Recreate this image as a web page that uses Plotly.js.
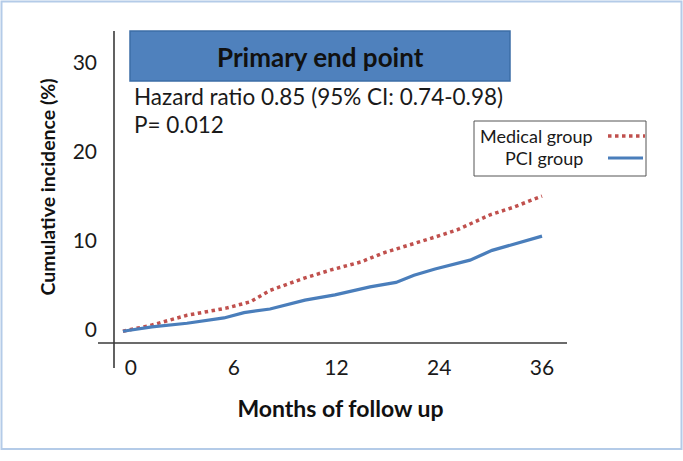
<!DOCTYPE html>
<html>
<head>
<meta charset="utf-8">
<script src="https://cdn.plot.ly/plotly-3.0.1.min.js"></script>
<style>
html,body{margin:0;padding:0;background:#fff;}
#chart{width:683px;height:461px;}
</style>
</head>
<body>
<div id="chart"></div>
<script>
// x positions are in axis units: one unit per tick (ticks 0, 6, 12, 24, 36 months are evenly spaced in the figure)
const tickPositions = [0, 1, 2, 3, 4];
const tickLabels = ['0', '6', '12', '24', '36'];
const yTicks = [0, 10, 20, 30];

const medicalName = 'Medical group';
const medicalX = [-0.078, 0.204, 0.545, 0.925, 1.158, 1.353, 1.693, 1.946, 2.238, 2.453, 2.959, 3.173, 3.494, 3.708, 4.0];
const medicalY = [-0.2, 0.5, 1.6, 2.4, 3.1, 4.4, 5.8, 6.7, 7.6, 8.6, 10.4, 11.2, 12.9, 13.7, 15.0];

const pciName = 'PCI group';
const pciX = [-0.078, 0.204, 0.545, 0.905, 1.100, 1.353, 1.693, 1.985, 2.326, 2.579, 2.754, 2.959, 3.299, 3.514, 4.0];
const pciY = [-0.2, 0.3, 0.7, 1.3, 1.9, 2.3, 3.3, 3.9, 4.8, 5.3, 6.1, 6.8, 7.8, 8.9, 10.5];

const boxTitle = 'Primary end point';
const hazardText = 'Hazard ratio 0.85 (95% CI: 0.74-0.98)';
const pText = 'P= 0.012';
const xTitle = 'Months of follow up';
const yTitle = 'Cumulative incidence (%)';

const RED = '#C0504D';
const BLUE = '#4A7EBB';
const FONT = 'Lato, "Open Sans", sans-serif';

// plot area in pixels
const W = 683, H = 461;
const L = 114, R = 116, T = 31, B = 118;
const pw = W - L - R, ph = H - T - B;
const px = v => (v - L) / pw;          // pixel x -> paper
const py = v => (H - B - v) / ph;      // pixel y -> paper

const traces = [
  {x: medicalX, y: medicalY, name: medicalName, mode: 'lines', type: 'scatter',
   line: {color: RED, width: 3.5, dash: 'dot'}, showlegend: false},
  {x: pciX, y: pciY, name: pciName, mode: 'lines', type: 'scatter',
   line: {color: BLUE, width: 3.2}, showlegend: false}
];

const layout = {
  width: W, height: H,
  margin: {l: L, r: R, t: T, b: B, pad: 0},
  paper_bgcolor: '#fff', plot_bgcolor: '#fff',
  font: {family: FONT, color: '#1a1a1a'},
  xaxis: {
    range: [-0.165, 4.243], tickmode: 'array', tickvals: tickPositions, ticktext: tickLabels,
    showgrid: false, zeroline: false, showline: false, ticks: '',
    ticklabelstandoff: 10, tickfont: {size: 21, family: FONT, color: '#1a1a1a'},
    title: {text: xTitle, font: {size: 23, family: FONT, color: '#111', weight: 'bold'}, standoff: 22},
    fixedrange: true
  },
  yaxis: {
    range: [-1.52, 33.58], tickmode: 'array', tickvals: yTicks, ticktext: yTicks.map(String),
    showgrid: false, zeroline: false, showline: false, ticks: '',
    ticklabelstandoff: 16, tickfont: {size: 21, family: FONT, color: '#1a1a1a'},
    title: {text: yTitle, font: {size: 19.5, family: FONT, color: '#111', weight: 'bold'}, standoff: 11},
    fixedrange: true
  },
  shapes: [
    // outer frame
    {type: 'rect', xref: 'paper', yref: 'paper', x0: px(1.5), x1: px(681.5), y0: py(449), y1: py(1.5),
     line: {color: '#B4CBE8', width: 2}, fillcolor: 'rgba(0,0,0,0)', layer: 'below'},
    // y axis line
    {type: 'line', xref: 'paper', yref: 'paper', x0: 0, x1: 0, y0: py(368), y1: 1,
     line: {color: '#3a3a3a', width: 1.6}},
    // x axis line
    {type: 'line', xref: 'paper', yref: 'paper', x0: px(98), x1: 1, y0: 0, y1: 0,
     line: {color: '#3a3a3a', width: 1.6}},
    // title box
    {type: 'rect', xref: 'paper', yref: 'paper', x0: px(130), x1: px(510), y0: py(81), y1: py(31),
     fillcolor: '#4F81BD', line: {color: '#3C6DA6', width: 1.5}},
    // legend box
    {type: 'rect', xref: 'paper', yref: 'paper', x0: px(474), x1: px(646), y0: py(176), y1: py(121),
     fillcolor: '#fff', line: {color: '#555', width: 1}},
    // legend samples
    {type: 'line', xref: 'paper', yref: 'paper', x0: px(608), x1: px(645), y0: py(136), y1: py(136),
     line: {color: RED, width: 3.5, dash: 'dot'}},
    {type: 'line', xref: 'paper', yref: 'paper', x0: px(608), x1: px(643), y0: py(158), y1: py(158),
     line: {color: BLUE, width: 3.2}}
  ],
  annotations: [
    {text: boxTitle, xref: 'paper', yref: 'paper', x: px(320), y: py(57), xanchor: 'center', yanchor: 'middle',
     showarrow: false, font: {size: 26, family: FONT, color: '#111', weight: 'bold'}},
    {text: hazardText, xref: 'paper', yref: 'paper', x: px(132), y: py(96), xanchor: 'left', yanchor: 'middle',
     showarrow: false, font: {size: 22.5, family: FONT, color: '#1a1a1a'}},
    {text: pText, xref: 'paper', yref: 'paper', x: px(132), y: py(124), xanchor: 'left', yanchor: 'middle',
     showarrow: false, font: {size: 22.5, family: FONT, color: '#1a1a1a'}},
    {text: medicalName, xref: 'paper', yref: 'paper', x: px(536), y: py(136), xanchor: 'center', yanchor: 'middle',
     showarrow: false, font: {size: 18, family: FONT, color: '#1a1a1a'}},
    {text: pciName, xref: 'paper', yref: 'paper', x: px(544), y: py(158), xanchor: 'center', yanchor: 'middle',
     showarrow: false, font: {size: 18, family: FONT, color: '#1a1a1a'}}
  ]
};

Plotly.newPlot('chart', traces, layout, {displayModeBar: false, staticPlot: true});
</script>
</body>
</html>
